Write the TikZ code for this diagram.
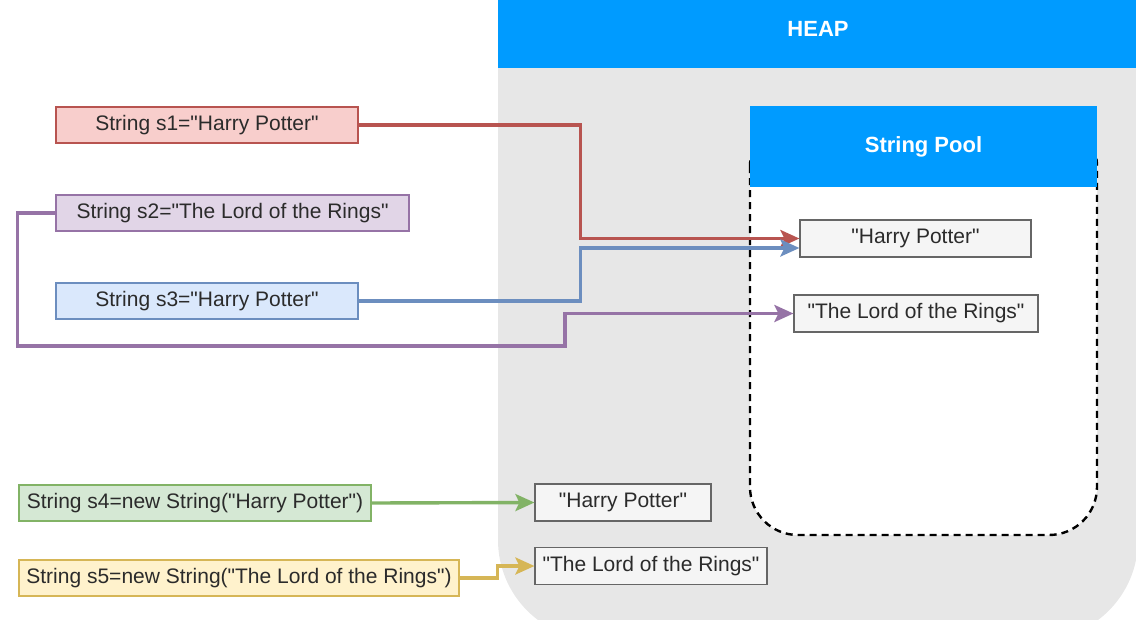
\documentclass[tikz,border=0pt]{standalone}
\usepackage{fontspec}
\setmainfont{Liberation Sans}[Ligatures=TeXOff]
\usetikzlibrary{arrows.meta}
\usetikzlibrary{calc}

\definecolor{heapgray}{HTML}{E7E7E7}
\definecolor{headblue}{HTML}{009BFF}
\definecolor{txtgray}{HTML}{2B2B2B}
\definecolor{redfill}{HTML}{F8CECC}\definecolor{redline}{HTML}{B85450}
\definecolor{purfill}{HTML}{E1D5E7}\definecolor{purline}{HTML}{9673A6}
\definecolor{blufill}{HTML}{DAE8FC}\definecolor{bluline}{HTML}{6C8EBF}
\definecolor{grnfill}{HTML}{D5E8D4}\definecolor{grnline}{HTML}{82B366}
\definecolor{yelfill}{HTML}{FFF2CC}\definecolor{yelline}{HTML}{D6B656}
\definecolor{objfill}{HTML}{F5F5F5}\definecolor{objline}{HTML}{666666}

\tikzstyle{var}=[draw, line width=1.2pt, inner sep=0pt, minimum height=36pt, text=txtgray, font=\fontsize{21}{25}\selectfont]
\tikzstyle{obj}=[draw=objline, fill=objfill, line width=1.2pt, inner sep=0pt, minimum height=37pt, text=txtgray, font=\fontsize{21}{25}\selectfont]
\tikzstyle{title}=[fill=headblue, inner sep=0pt, text=white, font=\fontsize{22}{26}\selectfont\bfseries]
\tikzstyle{ref}=[line width=3.4pt, -{Stealth[length=19pt,width=17pt,inset=4pt]}]

\begin{document}
\begin{tikzpicture}[x=1pt, y=-1pt]
		\useasboundingbox (0,0) rectangle (1136,619);
		\clip (0,0) rectangle (1136,619);
		% heap area
		\fill[heapgray, rounded corners=100pt] (498,-150) rectangle (1138,640);
		\node[title, minimum width=640pt, minimum height=78pt] (heap) at (818,29) {HEAP};
		% string pool
		\draw[fill=white, line width=2.4pt, dash pattern=on 7pt off 5pt, rounded corners=48pt] (750,118) rectangle (1097,535);
		\node[title, minimum width=347pt, minimum height=81pt] (pool) at (923.5,146.5) {String Pool};
		% objects
		\node[obj, minimum width=231pt] (hp) at (915.5,238.5) {"Harry Potter"};
		\node[obj, minimum width=244pt] (lotr) at (916,313.5) {"The Lord of the Rings"};
		\node[obj, minimum width=176pt] (hptwo) at (623,502.5) {"Harry Potter"};
		\node[obj, minimum width=232pt] (lotrtwo) at (651,566) {"The Lord of the Rings"};
		% variables
		\node[var, draw=redline, fill=redfill, minimum width=302pt] (sone) at (207,125) {String s1="Harry Potter"};
		\node[var, draw=purline, fill=purfill, minimum width=353pt] (stwo) at (232.5,213) {String s2="The Lord of the Rings"};
		\node[var, draw=bluline, fill=blufill, minimum width=302pt] (sthree) at (207,301) {String s3="Harry Potter"};
		\node[var, draw=grnline, fill=grnfill, minimum width=352pt] (sfour) at (195,503) {String s4=new String("Harry Potter")};
		\node[var, draw=yelline, fill=yelfill, minimum width=440pt] (sfive) at (239,578) {String s5=new String("The Lord of the Rings")};
		% references
		\coordinate (bend) at (565,346);
		\draw[ref, redline] (sone.east) -- ++(222,0) |- (hp.west);
		\draw[ref, bluline] (sthree.east) -- ++(222,0) |- ([yshift=-9.5pt]hp.west);
		\draw[ref, purline] (stwo.west) -- ++(-38,0) |- (bend) |- (lotr.west);
		\draw[ref, grnline] (sfour.east) -- (hptwo.west);
		\draw[ref, yelline] (sfive.east) -- ++(38,0) |- (lotrtwo.west);
\end{tikzpicture}
\end{document}
